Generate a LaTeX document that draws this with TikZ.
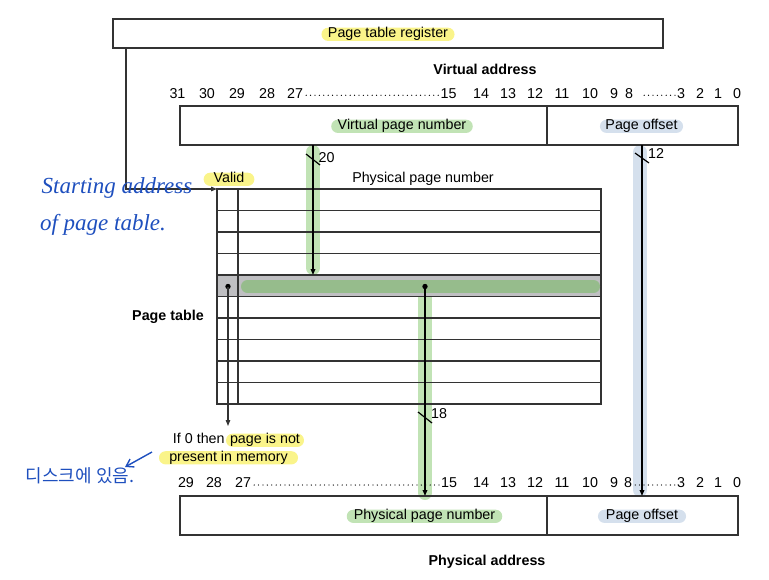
\documentclass[tikz,border=0pt]{standalone}
\usepackage{fontspec}
\setmainfont{Liberation Sans}
\newfontfamily\handfont{Liberation Serif}
\newfontfamily\kfont{Noto Sans CJK KR}
\usetikzlibrary{arrows.meta}
\definecolor{hlyellow}{HTML}{FAF48A}
\definecolor{hlgreen}{HTML}{C1E3B5}
\definecolor{hlblue}{HTML}{D5E0ED}
\definecolor{bargreen}{HTML}{96BC8C}
\definecolor{rowgray}{HTML}{BFBFC2}
\definecolor{boxc}{HTML}{333333}
\definecolor{inkblue}{HTML}{1E4FBE}
\newcommand\dfont{\fontsize{14.3pt}{17pt}\selectfont}
\begin{document}
\begin{tikzpicture}[x=1pt,y=-1pt,
  box/.style={draw=boxc, line width=1.3pt, inner sep=0pt, outer sep=0pt, anchor=north west},
  cell/.style={draw=boxc, line width=1.2pt, inner sep=0pt, outer sep=0pt, anchor=north west, minimum height=21.5pt},
  txt/.style={font=\dfont, inner sep=0pt, anchor=base},
  btxt/.style={font=\dfont\bfseries, inner sep=0pt, anchor=base},
  hl/.style={font=\dfont, fill=#1, rounded corners=6.5pt, inner xsep=6.5pt, inner ysep=0pt, text height=9.8pt, text depth=3.4pt, anchor=base},
  dig/.style={font=\dfont, inner sep=0.5pt, anchor=base},
  arr/.style={line width=1.6pt, -{Triangle[length=6pt,width=4.5pt]}},
  thinarr/.style={line width=1.1pt, draw=boxc, -{Triangle[length=6pt,width=4.5pt]}},
  band/.style={line width=14pt, line cap=round, draw=#1},
  tickmark/.style={line width=1.2pt},
  dotline/.style={line width=1.3pt, dash pattern=on 0pt off 4.4pt, line cap=round, shorten <=2.5pt, shorten >=1pt},
  hand/.style={text=inkblue, inner sep=0pt},
  handarrow/.style={draw=inkblue, line width=1.4pt, -{Straight Barb[length=7pt,width=9pt]}}
]
\useasboundingbox (0,0) rectangle (769,579);

% ---------- bands (behind) ----------
\draw[band=hlgreen] (313,152) -- (313,268);
\draw[band=hlblue] (640,152) -- (640,490);
\draw[band=hlgreen] (425,293) -- (425,493);

% ---------- page table register ----------
\node[box, minimum width=550pt, minimum height=29pt] (ptr) at (113,19) {};
\node[hl=hlyellow] (ptrlbl) at (388,37.5) {Page table register};

% ---------- virtual address ----------
\node[btxt] (valbl) at (485,74.7) {Virtual address};
\foreach \n/\x in {31/177.5,30/207,29/237,28/267,27/295,15/448.5,14/481,13/508,12/535,11/562,10/590,9/614,8/629,3/681,2/700,1/718,0/737}
  \node[dig] (v\n) at (\x,98.3) {\n};
\draw[dotline] ([yshift=3pt]v27.base east) -- ([yshift=3pt]v15.base west);
\draw[dotline] ([yshift=3pt,xshift=8pt]v8.base east) -- ([yshift=3pt]v3.base west);
\node[box, minimum width=367pt, minimum height=39pt] (vpnf) at (180,106) {};
\node[box, minimum width=191pt, minimum height=39pt] (vof) at (547,106) {};
\node[hl=hlgreen] (vpnlbl) at (402,129.5) {Virtual page number};
\node[hl=hlblue, inner xsep=5.5pt] (volbl) at (641.5,129.5) {Page offset};

% ---------- page table ----------
\node[hl=hlyellow, inner xsep=10pt] (validlbl) at (229,182.5) {Valid};
\node[txt] (ppnhdr) at (423,182) {Physical page number};
\node[fill=rowgray, minimum width=384pt, minimum height=21.5pt, anchor=north west, inner sep=0pt, outer sep=0pt] (hrow) at (217,275) {};
\foreach \i in {0,...,9} {
  \node[cell, minimum width=21pt] (vc\i) at ({217},{189+21.5*\i}) {};
  \node[cell, minimum width=363pt] (pc\i) at ({238},{189+21.5*\i}) {};
}
\draw[line width=13pt, line cap=round, draw=bargreen] (247.5,286.5) -- (593.5,286.5);
\node[btxt] (ptlbl) at (168,320.3) {Page table};

% dots in the selected entry
\coordinate (vdot) at (228,286.5);
\coordinate (pdot) at (425,286.5);
\fill (vdot) circle (2.7pt);
\fill (pdot) circle (2.7pt);

% ---------- connectors ----------
\coordinate (ptrout) at (126,48);
\draw[thinarr] (ptrout) |- (vc0.north west);
\coordinate (vpnout) at (313,145);
\draw[arr] (vpnout) -- (hrow.north -| vpnout);
\coordinate (poout) at (642,145);

% ---------- not present note ----------
\node[hl=hlyellow, inner xsep=4pt] (notlbl) at (265,443.5) {page is not};
\node[txt, anchor=base east] (if0) at ([xshift=-1pt]notlbl.base west) {If 0 then\ };
\node[hl=hlyellow, inner xsep=0pt, minimum width=139pt] (presentlbl) at (228.5,461) {present in memory};
\coordinate (validend) at (228,426);
\draw[thinarr] (vdot) -- (validend);

% ---------- physical address ----------
\foreach \n/\x in {29/186,28/214,27/243,15/449,14/481,13/508,12/535,11/562,10/590,9/614,8/628,3/681,2/700,1/718,0/737}
  \node[dig] (p\n) at (\x,487.5) {\n};
\draw[dotline] ([yshift=2.5pt]p27.base east) -- ([yshift=2.5pt]p15.base west);
\draw[dotline] ([yshift=2.5pt]p8.base east) -- ([yshift=2.5pt]p3.base west);
\node[box, minimum width=367pt, minimum height=39pt] (ppnf) at (180,496) {};
\node[box, minimum width=191pt, minimum height=39pt] (pof) at (547,496) {};
\node[hl=hlgreen, inner xsep=7pt] (ppnlbl) at (424.5,519.5) {Physical page number};
\node[hl=hlblue, inner xsep=8pt] (polbl) at (642,519.5) {Page offset};
\node[btxt] (palbl) at (487,565.7) {Physical address};

\draw[arr] (pdot) -- (ppnf.north -| pdot);
\draw[arr] (poout) -- (pof.north -| poout);

% ---------- width ticks ----------
\draw[tickmark] (306,154) -- (320,165);
\node[txt, anchor=base west] (w20) at (318.5,162) {20};
\draw[tickmark] (635,153) -- (649,163);
\node[txt, anchor=base west] (w12) at (648,158) {12};
\draw[tickmark] (418,412) -- (432,423);
\node[txt, anchor=base west] (w18) at (431,418) {18};

% ---------- handwritten notes ----------
\node[hand, font=\handfont\itshape\fontsize{23pt}{26pt}\selectfont] (hw1) at (117,188) {Starting address};
\node[hand, font=\handfont\itshape\fontsize{23pt}{26pt}\selectfont] (hw2) at (103,225) {of page table.};
\node[hand, font=\kfont\fontsize{18pt}{20pt}\selectfont] (hw3) at (80,476) {디스크에 있음.};
\coordinate (hwtail) at (152,452);
\coordinate (hwhead) at (125,467);
\draw[handarrow] (hwtail) -- (hwhead);
\end{tikzpicture}
\end{document}
